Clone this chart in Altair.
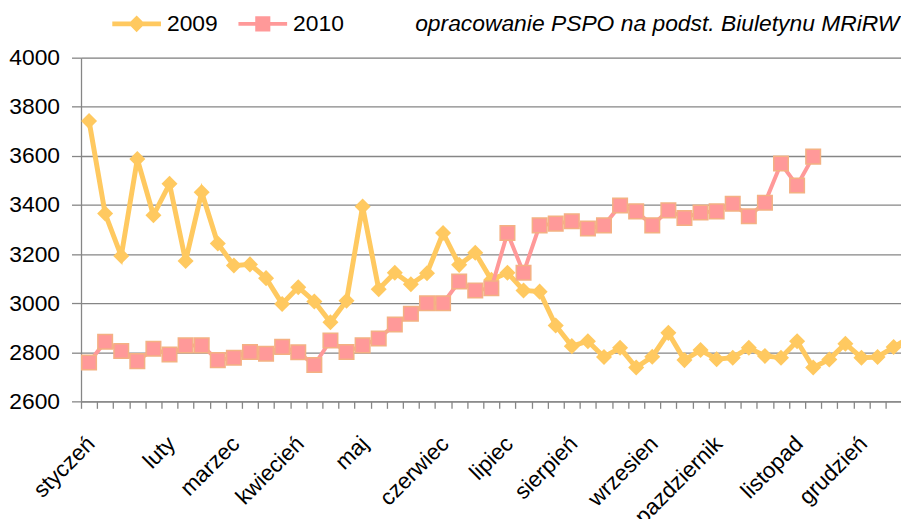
import altair as alt
import pandas as pd

months = ["styczeń", "luty", "marzec", "kwiecień", "maj", "czerwiec", "lipiec",
          "sierpień", "wrzesien", "pazdziernik", "listopad", "grudzień"]
month_week = [0, 5, 9, 13, 17, 22, 26, 30, 35, 39, 44, 48]

v2009 = [3742, 3365, 3192, 3587, 3358, 3486, 3172, 3452, 3243, 3153, 3158, 3102,
         2997, 3065, 3007, 2922, 3010, 3394, 3057, 3124, 3077, 3122, 3286, 3156,
         3205, 3095, 3124, 3052, 3047, 2909, 2825, 2845, 2781, 2818, 2738, 2782,
         2879, 2768, 2809, 2772, 2778, 2818, 2785, 2778, 2845, 2738, 2771, 2835,
         2778, 2781, 2821, 2860]
v2010 = [2758, 2843, 2805, 2764, 2814, 2791, 2828, 2828, 2768, 2778, 2801, 2794,
         2822, 2800, 2748, 2848, 2801, 2828, 2856, 2913, 2957, 3000, 3000, 3088,
         3052, 3061, 3286, 3124, 3317, 3324, 3334, 3304, 3317, 3398, 3374, 3317,
         3378, 3347, 3369, 3374, 3405, 3354, 3409, 3569, 3479, 3597]
series_names = ["2009", "2010"]
y_ticks = [2600, 2800, 3000, 3200, 3400, 3600, 3800, 4000]
source_note = "opracowanie PSPO na podst. Biuletynu MRiRW"

C09 = "#FFC960"
C10 = "#FF9999"
C10_EDGE = "#F4B183"
GRID = "#868686"
FONT = "Liberation Sans"

rows = [{"week": i, "value": v, "series": "2009"} for i, v in enumerate(v2009)]
rows += [{"week": i, "value": v, "series": "2010"} for i, v in enumerate(v2010)]
df = pd.DataFrame(rows)

W, H = 825.5, 346
BAND = 16.2
x_end = -0.5 + W / BAND

tick_vals = [k - 0.5 for k in range(51)]
label_pos = ",".join(str(w - 0.5) for w in month_week)
label_names = ",".join("'" + m + "'" for m in months)
label_expr = (f"indexof([{label_pos}], datum.value) >= 0 ? "
              f"[{label_names}][indexof([{label_pos}], datum.value)] : ''")

x_enc = alt.X("week:Q",
              scale=alt.Scale(domain=[-0.5, x_end], nice=False, zero=False),
              axis=alt.Axis(values=tick_vals, labelExpr=label_expr, title=None,
                            grid=False, labelAngle=-45, labelAlign="right",
                            labelBaseline="top", labelOffset=2, labelPadding=24,
                            tickSize=7, tickColor=GRID, domainColor=GRID,
                            tickWidth=1.3, domainWidth=1.3,
                            labelFontSize=22.5, labelFont=FONT, labelColor="black",
                            labelOverlap=False, labelFlush=False, labelBound=False))
y_enc = alt.Y("value:Q",
              scale=alt.Scale(domain=[2600, 4000], nice=False, zero=False),
              axis=alt.Axis(values=y_ticks, format="d", title=None, grid=True,
                            gridColor=GRID, gridWidth=1.3, tickSize=9.6,
                            tickColor=GRID, tickWidth=1.3, domainColor=GRID,
                            domainWidth=1.3, labelFontSize=23, labelFont=FONT,
                            labelColor="black", labelPadding=12))

base = alt.Chart(df).encode(x=x_enc, y=y_enc)
d09 = base.transform_filter(alt.datum.series == "2009")
d10 = base.transform_filter(alt.datum.series == "2010")

line09 = d09.mark_line(color=C09, strokeWidth=5, clip=True)
pts09 = d09.mark_point(shape="diamond", filled=True, size=260, color=C09,
                       opacity=1, clip=True)
line10 = d10.mark_line(color=C10, strokeWidth=4, clip=True)
pts10 = d10.mark_point(shape="square", filled=True, size=215, fill=C10,
                       stroke=C10_EDGE, strokeWidth=1.5, opacity=1, clip=True)

path09 = ("M-1,-0.1L1,-0.1L1,0.1L-1,0.1Z "
          "M0,-0.34L0.34,0L0,0.34L-0.34,0Z")
path10 = ("M-1,-0.08L1,-0.08L1,0.08L-1,0.08Z "
          "M-0.31,-0.31L0.31,-0.31L0.31,0.31L-0.31,0.31Z")

leg = alt.Legend(orient="none", legendX=31.5, legendY=-58.8,
                 direction="horizontal", title=None,
                 symbolSize=2401, symbolStrokeWidth=0,
                 symbolOpacity=1, labelFontSize=23,
                 labelFont=FONT, labelColor="black",
                 labelOffset=6, columnPadding=20, padding=0)

legend_layer = base.transform_filter("false").mark_point(
    filled=True, opacity=1).encode(
    color=alt.Color("series:N",
                    scale=alt.Scale(domain=series_names, range=[C09, C10]),
                    legend=leg),
    shape=alt.Shape("series:N",
                    scale=alt.Scale(domain=series_names, range=[path09, path10]),
                    legend=leg),
)

chart = alt.layer(line09, pts09, line10, pts10, legend_layer).properties(
    width=W, height=H,
    title=alt.TitleParams(source_note, anchor="end", fontStyle="italic",
                          fontWeight="normal", fontSize=23, font=FONT,
                          color="black", offset=14, dx=-4, dy=51),
    autosize=alt.AutoSizeParams(type="none"),
    padding={"left": 73.5, "top": 48.3, "right": 0, "bottom": 116.4},
).configure_view(stroke=None).configure(background="white")

chart.save("out.html", embed_options={"renderer": "svg", "actions": False})
